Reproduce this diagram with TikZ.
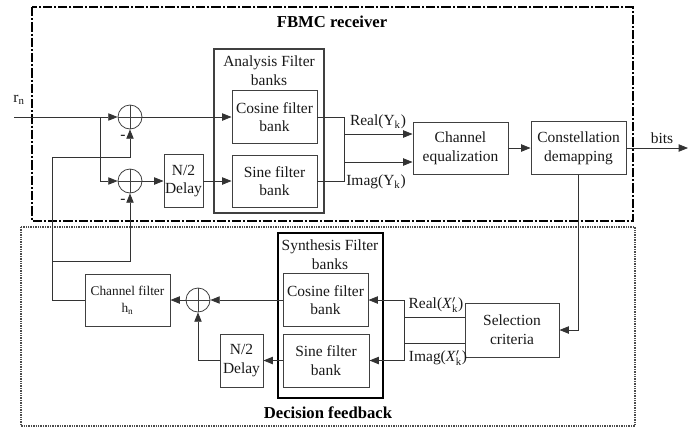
\documentclass[tikz,border=0pt]{standalone}
\usepackage{fontspec}
\setmainfont{Liberation Serif}
\usetikzlibrary{arrows.meta}

\begin{document}
\begin{tikzpicture}[x=0.75pt,y=0.75pt,yscale=-1,xscale=1,
  wire/.style={draw=black!80, line width=0.6pt},
  sig/.style={wire, -{Triangle[length=7pt,width=5.5pt]}},
  blk/.style={draw=black!75, line width=0.7pt, rectangle, inner sep=0pt, align=center, text=black!90, font=\fontsize{11.6}{14}\selectfont},
  bank/.style={draw=black!75, line width=1.4pt, rectangle, inner sep=0pt},
  adder/.style={draw=black!75, line width=0.6pt, circle, minimum size=18pt, inner sep=0pt,
    path picture={\draw [black!75, line width=0.6pt] (path picture bounding box.north) -- (path picture bounding box.south) (path picture bounding box.west) -- (path picture bounding box.east);}},
  lbl/.style={inner sep=0.75pt, text=black!90, font=\fontsize{11.6}{14}\selectfont},
  ttl/.style={inner sep=0.75pt, font=\fontsize{12.5}{15}\selectfont\bfseries}
]
\useasboundingbox (0,0) rectangle (698,426);

%Frames
\draw [line width=1.5pt, dash pattern=on 7pt off 1.5pt on 1.5pt off 1.5pt] (32,7) rectangle (633,221);
\draw [black!70, line width=1.5pt, dash pattern=on 1pt off 0.8pt] (21,227) rectangle (635,426);
\node [ttl] (rxTtl) at (332,22) {FBMC receiver};
\node [ttl] (dfTtl) at (328,413) {Decision feedback};

%Receiver blocks
\node [adder] (sum1) at (130,117) {};
\node [adder] (sum2) at (130,181) {};
\node [blk, minimum width=29.25pt, minimum height=39.75pt] (dlyA) at (183.5,181) {N/2\\Delay};
\node [bank, minimum width=82.5pt, minimum height=123pt] (anaBk) at (269,131) {};
\node [lbl, align=center] (anaTtl) at (269,71) {Analysis Filter\\banks};
\node [blk, minimum width=63.75pt, minimum height=39.75pt] (cosA) at (274.5,117) {Cosine filter\\bank};
\node [blk, minimum width=63.75pt, minimum height=39pt] (sinA) at (274.5,181) {Sine filter\\bank};
\node [blk, minimum width=71.25pt, minimum height=39pt] (chEq) at (460.5,148) {Channel\\equalization};
\node [blk, minimum width=71.25pt, minimum height=39.75pt] (cstl) at (578.5,148) {Constellation\\demapping};

%Feedback blocks
\node [bank, draw=black, minimum width=78.75pt, minimum height=123.75pt] (synBk) at (330.5,315.5) {};
\node [lbl, align=center] (synTtl) at (330,255) {Synthesis Filter\\banks};
\node [blk, minimum width=63.75pt, minimum height=39.75pt] (cosS) at (325.5,300) {Cosine filter\\bank};
\node [blk, minimum width=64.5pt, minimum height=39.75pt] (sinS) at (326,360.5) {Sine filter\\bank};
\node [blk, minimum width=32.25pt, minimum height=39.75pt] (dlyS) at (241.5,360.5) {N/2\\Delay};
\node [adder] (sum3) at (198,300) {};
\node [blk, minimum width=63.75pt, minimum height=39pt, font=\fontsize{10}{12.5}\selectfont] (chFlt) at (127.5,300) {Channel filter\\h\textsubscript{n}};
\node [blk, minimum width=70.5pt, minimum height=40.5pt] (selC) at (512,330) {Selection\\criteria};

%Free ends
\coordinate (rnIn) at (14,117);
\coordinate (br) at (100,117);
\coordinate (fb) at (52,157);
\coordinate (fb2) at (52,261);
\coordinate (bitsOut) at (688,148);

%Receiver connectors
\draw [sig] (rnIn) -- (sum1.west);
\draw [sig] (br) |- (sum2.west);
\draw [sig] (sum1.east) -- (cosA.west);
\draw [sig] (sum2.east) -- (dlyA.west);
\draw [sig] (dlyA.east) -- (sinA.west);
\draw [sig] (cosA.east) -- ++(27,0) |- ([yshift=10.5pt]chEq.west);
\draw [sig] (sinA.east) -- ++(27,0) |- ([yshift=-10.5pt]chEq.west);
\draw [sig] (chEq.east) -- (cstl.west);
\draw [sig] (cstl.east) -- (bitsOut);

%Feedback connectors
\draw [sig] (cstl.south) |- (selC.east);
\draw [sig] ([yshift=9.75pt]selC.west) -- ++(-60,0) |- (cosS.east);
\draw [sig] ([yshift=-9.75pt]selC.west) -- ++(-60,0) |- (sinS.east);
\draw [sig] (cosS.west) -- (sum3.east);
\draw [sig] (sinS.west) -- (dlyS.east);
\draw [sig] (dlyS.west) -| (sum3.south);
\draw [sig] (sum3.west) -- (chFlt.east);
\draw [sig] (chFlt.west) -| (fb) -| (sum1.south);
\draw [sig] (fb2) -| (sum2.south);

% Text Node
\node [lbl] (rnLbl) at (19,100) {r\textsubscript{n}};
\node [lbl] (mns1) at (123,137) {-};
\node [lbl] (mns2) at (123,201) {-};
\node [lbl] (reY) at (378,122) {Real(Y\textsubscript{k})};
\node [lbl] (imY) at (376,182) {Imag(Y\textsubscript{k})};
\node [lbl] (bitsLbl) at (662,138) {bits};
\node [lbl] (reX) at (436,305) {Real(\textit{X}$'_{\mathrm{k}}$)};
\node [lbl] (imX) at (438,358) {Imag(\textit{X}$'_{\mathrm{k}}$)};

\end{tikzpicture}
\end{document}
